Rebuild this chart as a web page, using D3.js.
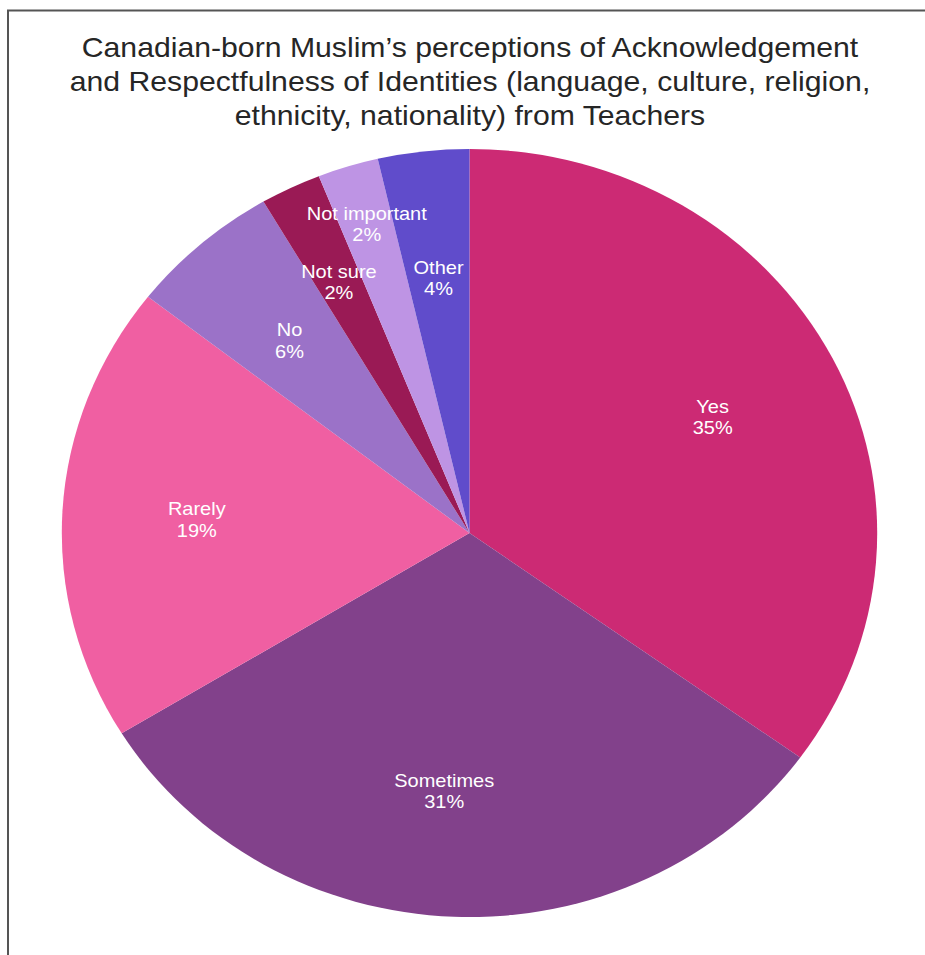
<!DOCTYPE html>
<html>
<head>
<meta charset="utf-8">
<script src="https://cdn.jsdelivr.net/npm/d3@7"></script>
<style>
  html, body { margin: 0; padding: 0; background: #ffffff; }
  svg { display: block; }
  text { font-family: "Liberation Sans", Arial, Helvetica, sans-serif; }
</style>
</head>
<body>
<svg id="chart" width="925" height="955"></svg>
<script>
// Survey responses (counts), in clockwise order from 12 o'clock
const categories = ["Yes", "Sometimes", "Rarely", "No", "Not sure", "Not important", "Other"];
const responses = [29, 26, 16, 5, 2, 2, 3];
const sliceColors = ["#cc2a74", "#82418b", "#f05fa2", "#9b72c8", "#9a1a55", "#be94e4", "#604ccb"];
const titleLines = [
  "Canadian-born Muslim\u2019s perceptions of Acknowledgement",
  "and Respectfulness of Identities (language, culture, religion,",
  "ethnicity, nationality) from Teachers"
];

const W = 925, H = 955;
const cx = 469.5, cy = 533;
const R = 407.7;
const ky = 0.942;          // vertical squash of the whole drawing
// label placement: radius as a fraction of R, small slices pushed outward
const labelRadiusFactor = { "Not sure": 0.73, "Not important": 0.845 };
const defaultLabelFactor = 0.67;
const labelShiftX = { "Sometimes": -15 };

const svg = d3.select("#chart");
svg.append("rect").attr("width", W).attr("height", H).attr("fill", "#ffffff");

// frame lines (left and top)
svg.append("path")
  .attr("d", `M8,${H} L8,10.5 L${W},10.5`)
  .attr("fill", "none")
  .attr("stroke", "#555555")
  .attr("stroke-width", 2);

// title
const titleG = svg.append("g").attr("transform", `scale(1,${ky})`);
titleG.selectAll("text.title")
  .data(titleLines)
  .join("text")
  .attr("class", "title")
  .attr("x", 470)
  .attr("y", (d, i) => (57.5 + i * 33.8) / ky)
  .attr("text-anchor", "middle")
  .attr("font-size", 30.2)
  .attr("fill", "#262626")
  .text(d => d);

const data = categories.map((c, i) => ({ category: c, count: responses[i], color: sliceColors[i] }));
const total = d3.sum(responses);

const pie = d3.pie().sort(null).value(d => d.count);
const arcs = pie(data);
const arc = d3.arc().innerRadius(0).outerRadius(R);

const g = svg.append("g").attr("transform", `translate(${cx},${cy}) scale(1,${ky})`);

g.selectAll("path.slice")
  .data(arcs)
  .join("path")
  .attr("class", "slice")
  .attr("d", arc)
  .attr("fill", d => d.data.color);

// labels: category name and rounded percent
const fontSize = 20;
const lineH = 22.5;
const labels = g.selectAll("g.label")
  .data(arcs)
  .join("g")
  .attr("class", "label")
  .attr("transform", d => {
    const f = labelRadiusFactor[d.data.category] || defaultLabelFactor;
    const [x, y] = d3.arc().innerRadius(R * f).outerRadius(R * f).centroid(d);
    return `translate(${x + (labelShiftX[d.data.category] || 0)},${y})`;
  });

labels.append("text")
  .attr("text-anchor", "middle")
  .attr("y", -lineH / 2 + 8)
  .attr("font-size", fontSize)
  .attr("fill", "#ffffff")
  .text(d => d.data.category);

labels.append("text")
  .attr("text-anchor", "middle")
  .attr("y", lineH / 2 + 8)
  .attr("font-size", fontSize)
  .attr("fill", "#ffffff")
  .text(d => Math.round(d.data.count / total * 100) + "%");
</script>
</body>
</html>
